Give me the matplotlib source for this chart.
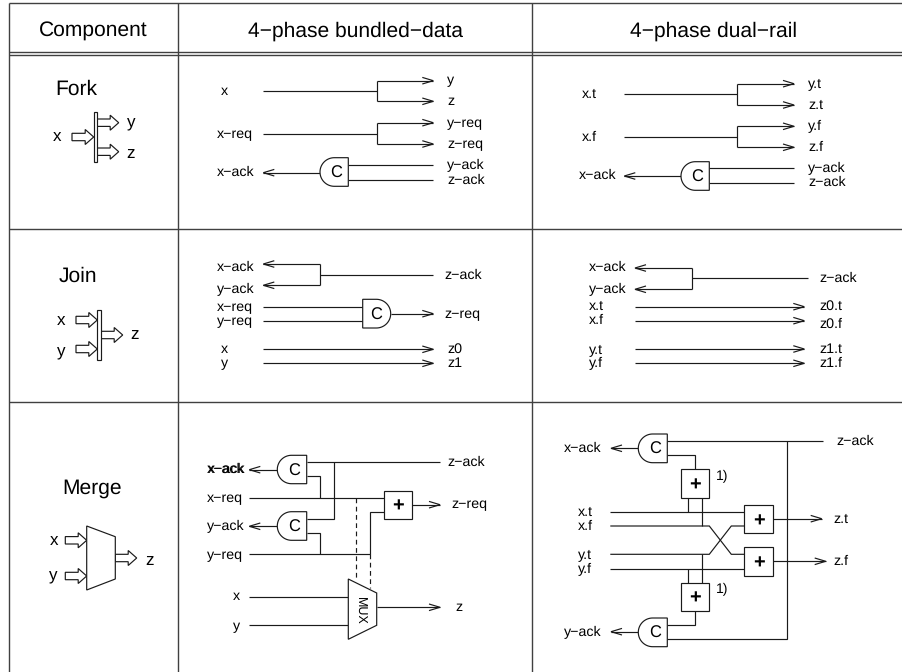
import matplotlib
matplotlib.use("Agg")
import matplotlib.pyplot as plt
from matplotlib.patches import Polygon, Rectangle
import numpy as np

plt.rcParams["font.family"] = ["Liberation Sans", "DejaVu Sans"]
plt.rcParams["text.hinting"] = "none"

px = 0.72  # points per pixel at dpi 100
LW = 0.85
INK = "#1a1a1a"

# table grid, in picture pixels (no right or bottom border, the picture cuts them off)
grid_x = [8.7, 178.5, 532.5]
grid_y = [2.5, 52, 55, 229, 402]

headers = ["Component", "4\u2212phase bundled\u2212data", "4\u2212phase dual\u2212rail"]
header_x = [93.7, 355, 713.5]
names = [("Fork", 76, 88), ("Join", 77.7, 275), ("Merge", 92, 487.3)]

# big labels next to the block symbols
symbol_labels = [
    ("x", 57, 136), ("y", 131, 122), ("z", 131, 153),
    ("x", 61, 320), ("y", 61, 351.5), ("z", 135, 334),
    ("x", 53.7, 539.3), ("y", 53.7, 575), ("z", 149.7, 560),
]
# block arrows: x from, x to, y
block_arrows = [
    (72, 93.7, 137), (97.3, 118.7, 122.7), (97.3, 118.7, 151.7),
    (76, 97.3, 320), (76, 97.3, 349), (101, 122.7, 335),
    (65.3, 86.7, 540.3), (65.3, 86.7, 576), (115.3, 136.7, 558),
]
# thin bars: x0, y0, x1, y1
bars = [(93.7, 112, 97.3, 162), (97.3, 310, 101, 360)]
merge_shape = [(86.7, 526), (115.3, 536.7), (115.3, 579), (86.7, 590)]
mux_shape = [(348.3, 579), (376.7, 593), (376.7, 625.3), (348.3, 639.3)]

# small labels, left aligned: text, x, y
left_labels = [
    ("x", 221, 90.7), ("x\u2212req", 217.3, 133.3), ("x\u2212ack", 217.3, 172),
    ("y", 447, 80), ("z", 447, 101), ("y\u2212req", 447, 122.7), ("z\u2212req", 447, 144),
    ("y\u2212ack", 447, 165), ("z\u2212ack", 447, 179.5),
    ("x.t", 581.7, 94), ("x.f", 581.7, 136.5), ("x\u2212ack", 578.7, 174.7),
    ("y.t", 808.3, 83), ("z.t", 808.3, 104.5), ("y.f", 808.3, 125.5), ("z.f", 808.3, 147),
    ("y\u2212ack", 808.3, 167.5), ("z\u2212ack", 808.3, 182),
    ("x\u2212ack", 217.3, 266.7), ("y\u2212ack", 217.3, 288.7), ("x\u2212req", 217.3, 306.3),
    ("y\u2212req", 217.3, 321), ("x", 221, 349), ("y", 221, 363),
    ("z\u2212ack", 444, 274.7), ("z\u2212req", 444, 313.5), ("z0", 447.3, 348.5), ("z1", 447.3, 363),
    ("x\u2212ack", 589.3, 266.7), ("y\u2212ack", 589.3, 288.7), ("x.t", 589.3, 305.7), ("x.f", 589.3, 320),
    ("y.t", 589.3, 348.7), ("y.f", 589.3, 362.7),
    ("z\u2212ack", 819.3, 277.7), ("z0.t", 819.3, 305.7), ("z0.f", 819.3, 323.7),
    ("z1.t", 819.3, 348.5), ("z1.f", 819.3, 363),
    ("x\u2212ack", 207.3, 468.7), ("x\u2212ack", 207.7, 468.7),  # struck twice in the original
    ("x\u2212req", 207.3, 497.3), ("y\u2212ack", 207.3, 525.3), ("y\u2212req", 207.3, 554.3),
    ("x", 232.5, 595.3), ("y", 232.5, 625.7), ("z\u2212ack", 447.3, 461.3), ("z\u2212req", 451, 504), ("z", 455, 607),
    ("x\u2212ack", 564.3, 448), ("y\u2212ack", 564.3, 631.3), ("x.t", 578.3, 511.7), ("x.f", 578.3, 525.3),
    ("y.t", 578.3, 553.3), ("y.f", 578.3, 568.7), ("z\u2212ack", 836.7, 440.7), ("z.t", 833.3, 519), ("z.f", 833.3, 560.7),
]
note_labels = [("1)", 716, 476), ("1)", 716, 588.7)]

# plain wires, each a polyline
wires = [
    [(263.3, 91), (376.7, 91)], [(376.7, 80.7), (376.7, 101.3)],
    [(263.3, 133.5), (376.7, 133.5)], [(376.7, 122.7), (376.7, 144)],
    [(348.3, 165.3), (433.3, 165.3)], [(348.3, 179.7), (433.3, 179.7)],
    [(624.3, 94.3), (737.3, 94.3)], [(737.3, 83.7), (737.3, 105)],
    [(624.3, 136.7), (737.3, 136.7)], [(737.3, 126.3), (737.3, 147.3)],
    [(709.3, 168.3), (794, 168.3)], [(709.3, 183), (794, 183)],
    [(320, 264), (320, 285.3)], [(320, 274.7), (433.3, 274.7)],
    [(263.3, 306.7), (362.7, 306.7)], [(263.3, 321), (362.7, 321)],
    [(691.7, 268), (691.7, 289.3)], [(691.7, 278.3), (808.3, 278.3)],
    [(306.7, 462.3), (440, 462.3)], [(306.7, 476.3), (320.3, 476.3), (320.3, 497.7)],
    [(249.3, 497.7), (383.7, 497.7)], [(383.7, 511.7), (369.7, 511.7), (369.7, 554.3), (249.3, 554.3)],
    [(334.3, 462.3), (334.3, 518.7), (306.7, 518.7)],
    [(306.7, 533), (320.3, 533), (320.3, 554.3)],
    [(249.3, 597), (348.3, 597)], [(249.3, 625.3), (348.3, 625.3)],
    [(667.3, 441.3), (822.7, 441.3)], [(667.3, 455.3), (695.3, 455.3), (695.3, 469.3)],
    [(688, 498), (688, 511.7)], [(702.3, 498), (702.3, 526)],
    [(610.3, 511.7), (744.3, 511.7)],
    [(610.3, 526), (709.3, 526), (731.3, 554.3), (744.3, 554.3)],
    [(610.3, 554.3), (709.3, 554.3), (731.3, 526), (744.3, 526)],
    [(610.3, 568.7), (744.3, 568.7)],
    [(688, 568.7), (688, 582.7)], [(702.3, 554.3), (702.3, 582.7)],
    [(695.3, 611), (695.3, 625.3), (667.3, 625.3)],
    [(667.3, 639), (787.3, 639), (787.3, 441.3)],
]
dashed = [[(355.7, 497.7), (355.7, 579.3)], [(369.7, 554.3), (369.7, 588.3)]]

# wires ending in an open arrowhead: x start, x tip, y
arrows = [
    (376.7, 433.3, 80.7), (376.7, 433.3, 101.3), (376.7, 433.3, 122.7), (376.7, 433.3, 144),
    (320, 263.3, 172.7),
    (737.3, 794, 83.7), (737.3, 794, 105), (737.3, 794, 126.3), (737.3, 794, 147.3),
    (681, 624.3, 176),
    (320, 263.3, 264), (320, 263.3, 285.3), (390.7, 433.3, 313.7),
    (263.3, 433.3, 349.3), (263.3, 433.3, 363.3),
    (691.7, 635, 268), (691.7, 635, 289.3),
    (635, 804.3, 306.7), (635, 804.3, 320.7), (635, 804.3, 349), (635, 804.3, 363.3),
    (277.3, 249.3, 469.7), (277.3, 249.3, 526.3), (412.3, 440, 504.7), (376.7, 440, 607.3),
    (638.3, 611, 448.3), (638.3, 611, 631.7), (773.3, 821.7, 518.7), (773.3, 825.7, 561.3),
]

# C gates: flat side x, round side x, top y, bottom y, text x
c_gates = [
    (348.3, 320, 157.7, 186.3, 336), (709.3, 681, 161.7, 190.3, 697),
    (362.7, 390.7, 299.3, 328, 376),
    (306.7, 277.3, 455.3, 483.7, 294.3), (306.7, 277.3, 511.7, 540.3, 294.3),
    (667.3, 638.3, 434, 462.7, 655), (667.3, 638.3, 618, 646.7, 655),
]
# plus boxes: x0, y0, x1, y1
plus_boxes = [
    (383.7, 490.7, 412.3, 519), (681, 469.3, 709.3, 498), (744.3, 505, 773.3, 533.3),
    (744.3, 547.3, 773.3, 575.7), (681, 582.7, 709.3, 611),
]

fig = plt.figure(figsize=(9.03, 6.72), dpi=100)
ax = fig.add_axes([0, 0, 1, 1])
ax.set_xlim(0, 903)
ax.set_ylim(672, 0)
ax.axis("off")


def line(pts, **kw):
    xs, ys = zip(*pts)
    ax.plot(xs, ys, color=kw.pop("color", INK), lw=kw.pop("lw", LW),
            solid_joinstyle="miter", solid_capstyle="butt", **kw)


def block_arrow(x0, x1, y):
    pts = [(x0, y - 3.7), (x1 - 8.5, y - 3.7), (x1 - 8.5, y - 7.5), (x1, y),
           (x1 - 8.5, y + 7.5), (x1 - 8.5, y + 3.7), (x0, y + 3.7)]
    ax.add_patch(Polygon(pts, closed=True, fc="white", ec=INK, lw=LW, zorder=3))


def open_arrow(x0, x1, y):
    d = 1 if x1 > x0 else -1
    line([(x0, y), (x1, y)])
    line([(x1 - d * 11, y - 3.3), (x1, y), (x1 - d * 11, y + 3.3)])


def c_gate(xf, xr, y0, y1, tx):
    r = (y1 - y0) / 2
    yc = (y0 + y1) / 2
    d = 1 if xr > xf else -1
    t = np.linspace(-np.pi / 2, np.pi / 2, 40)
    xs = np.concatenate([[xf], xr - d * r + d * r * np.cos(t), [xf]])
    ys = np.concatenate([[y0], yc + r * np.sin(t), [y1]])
    ax.add_patch(Polygon(np.column_stack([xs, ys]), closed=True, fc="white", ec=INK, lw=LW, zorder=3))
    ax.text(tx, yc + 1.5, "C", fontsize=16.5 * px, ha="center", va="center", zorder=4)


# table
for x in grid_x:
    line([(x, grid_y[0]), (x, 672)], lw=1.0, color="#404040")
for y in grid_y:
    line([(grid_x[0], y), (903, y)], lw=1.0, color="#404040")

for t, x in zip(headers, header_x):
    ax.text(x, 31, t, fontsize=21 * px, ha="center", va="center")
for t, x, y in names:
    ax.text(x, y + 1, t, fontsize=21 * px, ha="center", va="center")
for t, x, y in symbol_labels:
    ax.text(x, y + 1, t, fontsize=17 * px, ha="center", va="center")

for b in block_arrows:
    block_arrow(*b)
for x0, y0, x1, y1 in bars:
    ax.add_patch(Rectangle((x0, y0), x1 - x0, y1 - y0, fc="white", ec=INK, lw=LW, zorder=4))
ax.add_patch(Polygon(merge_shape, closed=True, fc="white", ec=INK, lw=LW, zorder=4))
ax.add_patch(Polygon(mux_shape, closed=True, fc="white", ec=INK, lw=LW, zorder=4))
ax.text(359.7, 610.7, "MUX", fontsize=12.5 * px, rotation=-90, ha="center", va="center", zorder=5)

for w in wires:
    line(w)
for w in dashed:
    line(w, linestyle=(0, (4, 3)))
for a in arrows:
    open_arrow(*a)
for g in c_gates:
    c_gate(*g)
for x0, y0, x1, y1 in plus_boxes:
    ax.add_patch(Rectangle((x0, y0), x1 - x0, y1 - y0, fc="white", ec=INK, lw=LW, zorder=3))
    ax.text((x0 + x1) / 2, (y0 + y1) / 2 + 2, "+", fontsize=20 * px, ha="center", va="center",
            fontweight="bold", zorder=4)
for t, x, y in left_labels:
    ax.text(x, y + 0.7, t, fontsize=14.2 * px, ha="left", va="center")
for t, x, y in note_labels:
    ax.text(x, y + 0.7, t, fontsize=14 * px, ha="left", va="center")

fig.savefig("out.png", dpi=100)
